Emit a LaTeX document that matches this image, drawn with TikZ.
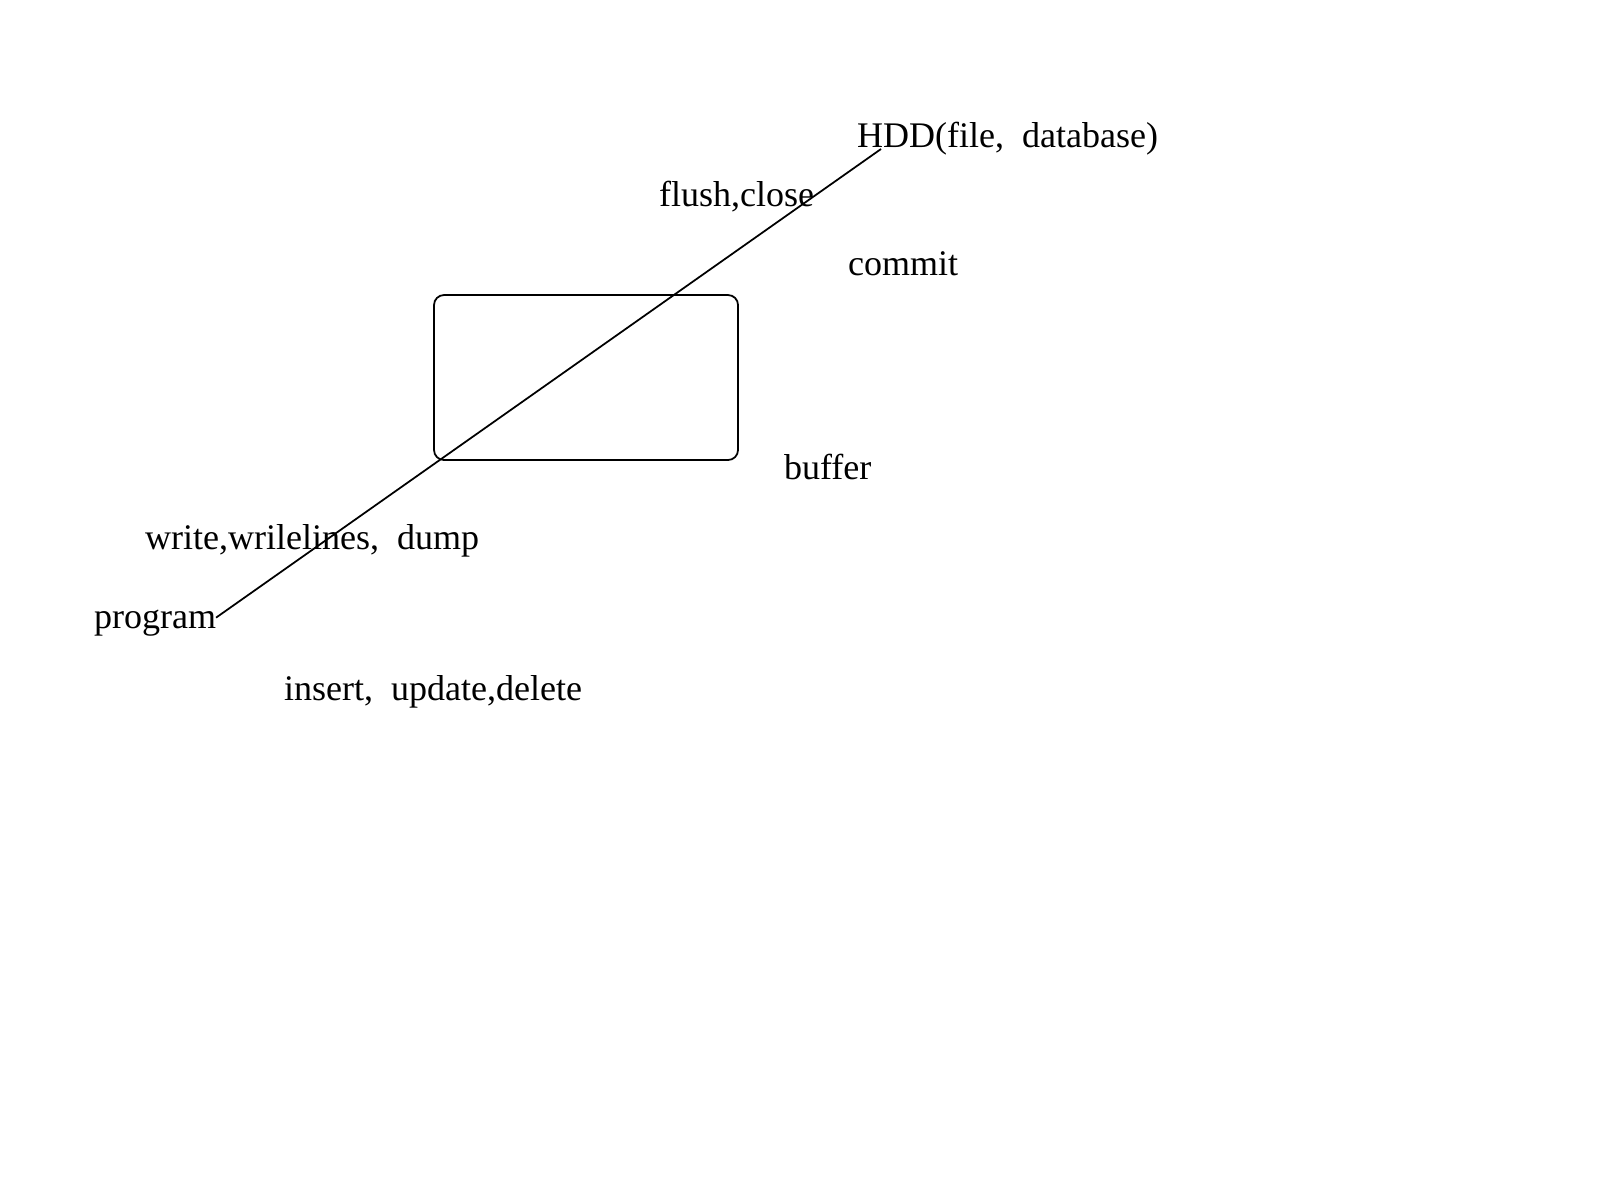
\documentclass[tikz,border=0pt]{standalone}
\usepackage{fontspec}
\setmainfont{Liberation Serif}
\usepackage{tikz}
\usetikzlibrary{positioning,calc}

\begin{document}
\begin{tikzpicture}[
    x=1cm,y=1cm,font=\fontsize{10.25}{12}\selectfont,
    lbl/.style={anchor=base west,inner sep=0pt,outer sep=0pt},
    bufbox/.style={draw,rounded corners=0.1cm,line width=0.5pt,
      minimum width=3.04cm,minimum height=1.65cm,inner sep=0pt},
    link/.style={line width=0.5pt}
]
\useasboundingbox (0,0) rectangle (16,-12);

\node[bufbox] (buf) at (5.86,-3.775) {};

\node[lbl] (hdd) at (8.57,-1.47) {HDD(file,~ database)};
\node[lbl] (flush) at (6.59,-2.06) {flush,close};
\node[lbl] (commit) at (8.48,-2.75) {commit};
\node[lbl] (buffer) at (7.84,-4.79) {buffer};
\node[lbl] (write) at (1.45,-5.49) {write,wrilelines,~ dump};
\node[lbl] (program) at (0.94,-6.28) {program};
\node[lbl] (insert) at (2.84,-7.00) {insert,~ update,delete};

\coordinate (hddin) at (8.81,-1.49);
\draw[link] ([yshift=0.05cm]program.east) -- (hddin);
\end{tikzpicture}
\end{document}
